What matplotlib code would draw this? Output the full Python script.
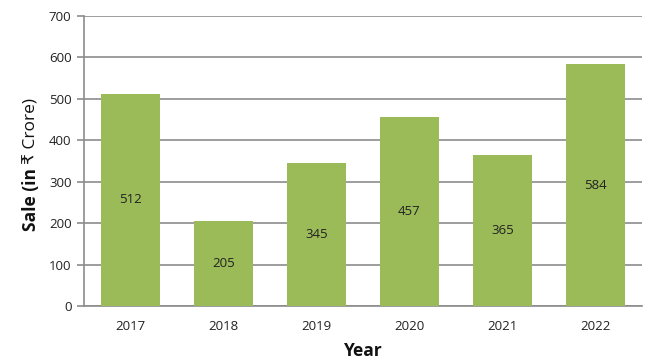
import matplotlib
matplotlib.use("Agg")
import matplotlib.pyplot as plt

years = ["2017", "2018", "2019", "2020", "2021", "2022"]
sales = [512, 205, 345, 457, 365, 584]
yticks = [0, 100, 200, 300, 400, 500, 600, 700]

plt.rcParams['font.family'] = ['Open Sans', 'DejaVu Sans']

fig = plt.figure(figsize=(6.64, 3.6), dpi=100)
ax = fig.add_axes([84/664, 54/360, (642-84)/664, (306-16)/360])

x = range(len(years))
bars = ax.bar(x, sales, width=0.645, color='#9BBB59', zorder=3)
for xi, v in zip(x, sales):
    ax.text(xi, v/2, str(v), ha='center', va='center', fontsize=9.5, color='#222222', zorder=4)

ax.set_xlim(-0.5, len(years)-0.5)
ax.set_ylim(0, 700)
ax.set_yticks(yticks)
ax.set_xticks(list(x))
ax.set_xticklabels(years)
ax.yaxis.grid(True, color='#8c8c8c', linewidth=1.2, zorder=0)
ax.tick_params(axis='y', length=5, color='#8c8c8c', width=1.2, labelsize=9.5, labelcolor='#222222', pad=4)
ax.tick_params(axis='x', length=0, labelsize=9.5, labelcolor='#222222', pad=10)
for s in ['top', 'right']:
    ax.spines[s].set_visible(False)
ax.spines['left'].set_color('#8c8c8c')
ax.spines['left'].set_linewidth(1.2)
ax.spines['bottom'].set_color('#8c8c8c')
ax.spines['bottom'].set_linewidth(1.2)

fig.text(363/664, 1 - 351/360, "Year", ha='center', va='center', fontsize=12.5, fontweight='bold', color='#111111')

# y label: bold part then regular part
t1 = fig.text(31/664, 1 - 231/360, "Sale (in ", rotation=90, ha='center', va='bottom',
              fontsize=12.5, fontweight='bold', color='#111111')
fig.canvas.draw()
bb = t1.get_window_extent(fig.canvas.get_renderer())
ytop = bb.y1 / fig.bbox.height
fig.text(31/664, ytop, "₹ Crore)", rotation=90, ha='center', va='bottom',
         fontsize=12.5, color='#111111')

fig.savefig("out.png", dpi=100)
